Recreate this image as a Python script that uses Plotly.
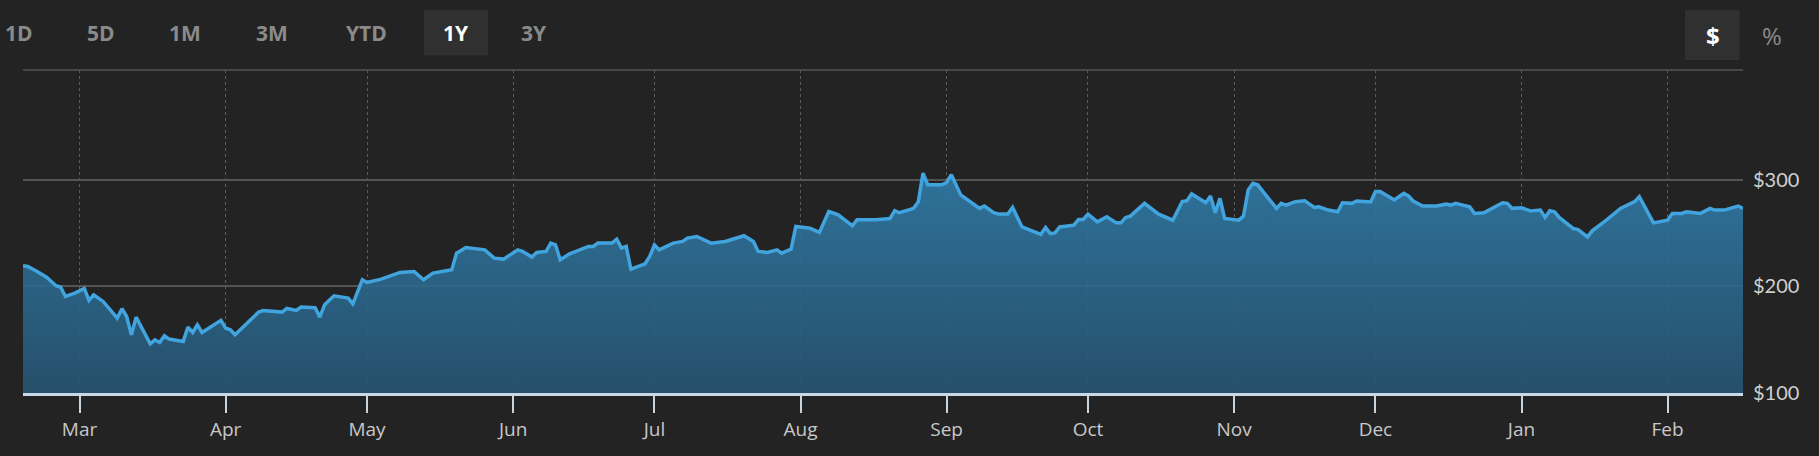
import plotly.graph_objects as go

# ---- data ----
dates = [
    "2021-02-17", "2021-02-18", "2021-02-20", "2021-02-22", "2021-02-24", "2021-02-25", "2021-02-26", "2021-02-28",
    "2021-03-02", "2021-03-03", "2021-03-04", "2021-03-06", "2021-03-09", "2021-03-10", "2021-03-11", "2021-03-12",
    "2021-03-13", "2021-03-14", "2021-03-16", "2021-03-17", "2021-03-18", "2021-03-19", "2021-03-20", "2021-03-23",
    "2021-03-24", "2021-03-25", "2021-03-26", "2021-03-27", "2021-03-31", "2021-04-01", "2021-04-02", "2021-04-03",
    "2021-04-08", "2021-04-09", "2021-04-13", "2021-04-14", "2021-04-16", "2021-04-17", "2021-04-20", "2021-04-21",
    "2021-04-22", "2021-04-24", "2021-04-27", "2021-04-28", "2021-04-30", "2021-05-01", "2021-05-04", "2021-05-08",
    "2021-05-11", "2021-05-13", "2021-05-15", "2021-05-19", "2021-05-20", "2021-05-22", "2021-05-26", "2021-05-28",
    "2021-05-30", "2021-06-02", "2021-06-03", "2021-06-05", "2021-06-06", "2021-06-08", "2021-06-09", "2021-06-10",
    "2021-06-11", "2021-06-13", "2021-06-15", "2021-06-17", "2021-06-18", "2021-06-19", "2021-06-22", "2021-06-23",
    "2021-06-24", "2021-06-25", "2021-06-26", "2021-06-29", "2021-06-30", "2021-07-01", "2021-07-02", "2021-07-05",
    "2021-07-07", "2021-07-08", "2021-07-10", "2021-07-13", "2021-07-16", "2021-07-20", "2021-07-22", "2021-07-23",
    "2021-07-25", "2021-07-27", "2021-07-28", "2021-07-30", "2021-07-31", "2021-08-03", "2021-08-05", "2021-08-07",
    "2021-08-09", "2021-08-10", "2021-08-12", "2021-08-13", "2021-08-17", "2021-08-20", "2021-08-21", "2021-08-22",
    "2021-08-25", "2021-08-26", "2021-08-27", "2021-08-28", "2021-08-31", "2021-09-01", "2021-09-02", "2021-09-04",
    "2021-09-08", "2021-09-09", "2021-09-11", "2021-09-12", "2021-09-14", "2021-09-15", "2021-09-17", "2021-09-21",
    "2021-09-22", "2021-09-23", "2021-09-24", "2021-09-25", "2021-09-28", "2021-09-29", "2021-09-30", "2021-10-01",
    "2021-10-03", "2021-10-05", "2021-10-07", "2021-10-08", "2021-10-09", "2021-10-10", "2021-10-13", "2021-10-16",
    "2021-10-19", "2021-10-21", "2021-10-22", "2021-10-23", "2021-10-26", "2021-10-27", "2021-10-28", "2021-10-29",
    "2021-10-30", "2021-11-02", "2021-11-03", "2021-11-04", "2021-11-05", "2021-11-06", "2021-11-10", "2021-11-11",
    "2021-11-12", "2021-11-14", "2021-11-16", "2021-11-18", "2021-11-19", "2021-11-21", "2021-11-23", "2021-11-24",
    "2021-11-26", "2021-11-27", "2021-11-30", "2021-12-01", "2021-12-02", "2021-12-05", "2021-12-07", "2021-12-08",
    "2021-12-09", "2021-12-11", "2021-12-14", "2021-12-16", "2021-12-17", "2021-12-18", "2021-12-21", "2021-12-22",
    "2021-12-24", "2021-12-26", "2021-12-28", "2021-12-29", "2021-12-30", "2022-01-01", "2022-01-03", "2022-01-05",
    "2022-01-06", "2022-01-07", "2022-01-08", "2022-01-09", "2022-01-12", "2022-01-13", "2022-01-15", "2022-01-16",
    "2022-01-19", "2022-01-22", "2022-01-24", "2022-01-25", "2022-01-26", "2022-01-29", "2022-02-01", "2022-02-02",
    "2022-02-04", "2022-02-05", "2022-02-08", "2022-02-10", "2022-02-11", "2022-02-13", "2022-02-16", "2022-02-17",
]

prices = [
    219.5, 218.7, 214.0, 208.7, 200.6, 199.3, 190.6, 193.7,
    198.1, 186.8, 192.1, 185.9, 170.3, 179.0, 171.8, 154.6,
    171.2, 163.0, 146.2, 149.9, 147.4, 153.7, 150.6, 148.4,
    161.8, 156.8, 164.0, 156.8, 168.1, 160.9, 159.3, 154.6,
    175.9, 177.4, 175.9, 179.3, 177.4, 180.6, 180.0, 171.2,
    182.8, 191.2, 189.0, 183.7, 206.2, 203.7, 206.8, 213.1,
    214.0, 206.2, 212.5, 215.6, 231.2, 236.5, 234.3, 226.5,
    225.6, 234.3, 232.8, 227.5, 231.8, 232.8, 240.6, 239.0,
    225.0, 230.6, 233.7, 237.5, 237.5, 240.6, 240.6, 244.3,
    235.9, 237.5, 216.2, 221.2, 228.1, 239.0, 234.3, 240.6,
    242.2, 245.3, 246.8, 240.6, 242.2, 247.5, 242.2, 232.8,
    231.8, 234.3, 231.2, 235.0, 256.2, 254.7, 250.6, 270.3,
    267.2, 264.0, 256.8, 262.5, 262.5, 263.7, 271.0, 269.1,
    273.2, 279.5, 306.3, 295.3, 295.3, 297.5, 304.7, 285.8,
    273.2, 275.4, 269.1, 267.8, 267.8, 274.1, 255.8, 248.9,
    255.2, 249.5, 250.2, 255.8, 257.4, 262.8, 262.8, 267.8,
    260.6, 265.3, 259.6, 259.6, 264.7, 265.9, 277.9, 267.8,
    262.1, 279.5, 280.4, 286.7, 278.5, 284.8, 269.1, 282.6,
    263.7, 262.1, 265.9, 290.5, 296.8, 295.3, 273.2, 277.9,
    276.3, 279.5, 280.4, 274.1, 274.7, 271.6, 270.0, 278.5,
    277.9, 280.1, 279.2, 289.0, 289.0, 281.1, 287.4, 284.9,
    280.1, 275.4, 275.4, 277.3, 276.3, 277.9, 274.7, 268.5,
    269.1, 273.8, 278.5, 277.9, 273.2, 273.8, 270.7, 271.6,
    264.7, 271.0, 270.0, 264.7, 254.3, 253.3, 246.4, 252.1,
    262.1, 273.2, 277.9, 279.5, 284.2, 259.6, 262.1, 268.5,
    268.5, 270.0, 268.5, 273.2, 271.6, 271.6, 275.4, 273.2,
]

month_ticks = ["2021-03-01", "2021-04-01", "2021-05-01", "2021-06-01", "2021-07-01", "2021-08-01",
               "2021-09-01", "2021-10-01", "2021-11-01", "2021-12-01", "2022-01-01", "2022-02-01"]
month_labels = ["Mar", "Apr", "May", "Jun", "Jul", "Aug", "Sep", "Oct", "Nov", "Dec", "Jan", "Feb"]
price_ticks = [100, 200, 300]
price_labels = ["$100", "$200", "$300"]
range_buttons = ["1D", "5D", "1M", "3M", "YTD", "1Y", "3Y"]
active_button = "1Y"

# ---- layout geometry (pixels) ----
W, H = 1819, 456
ML, MR, MT, MB = 23, 76, 70, 63
PW, PH = W - ML - MR, H - MT - MB

def px_x(px):
    return (px - ML) / PW

def px_y(py):
    return (H - MB - py) / PH

BG = "#232323"

fig = go.Figure()
fig.add_trace(go.Scatter(
    x=dates, y=prices, mode="lines",
    line=dict(color="#41a4de", width=3.5),
    fill="tozeroy",
    fillgradient=dict(
        type="vertical",
        colorscale=[[0, "rgba(38,84,114,0.90)"], [1, "rgba(48,122,166,0.90)"]],
        start=100, stop=300,
    ),
    hoverinfo="skip",
))

# buttons
button_x = [18.8, 101, 185, 272, 366.5, 456, 534]
shapes = [
    dict(type="rect", xref="paper", yref="paper",
         x0=px_x(424), x1=px_x(488), y0=px_y(55.5), y1=px_y(10),
         fillcolor="#303030", line=dict(width=0), layer="below"),
    dict(type="rect", xref="paper", yref="paper",
         x0=px_x(1685), x1=px_x(1739.5), y0=px_y(60), y1=px_y(10),
         fillcolor="#303030", line=dict(width=0), layer="below"),
    dict(type="line", xref="paper", yref="paper", x0=0, x1=1, y0=1, y1=1,
         line=dict(color="#555555", width=1.5)),
]
annotations = []
for lbl, bx in zip(range_buttons, button_x):
    annotations.append(dict(
        text=lbl, xref="paper", yref="paper", x=px_x(bx), y=px_y(33),
        xanchor="center", yanchor="middle", showarrow=False,
        font=dict(family="Open Sans", size=21, color="#ffffff" if lbl == active_button else "#8a8a8a",
                  weight="bold"),
    ))
annotations.append(dict(text="$", xref="paper", yref="paper", x=px_x(1712.5), y=px_y(35),
                        xanchor="center", yanchor="middle", showarrow=False,
                        font=dict(family="Open Sans", size=24, color="#ffffff", weight="bold")))
annotations.append(dict(text="%", xref="paper", yref="paper", x=px_x(1772), y=px_y(35),
                        xanchor="center", yanchor="middle", showarrow=False,
                        font=dict(family="Open Sans", size=24, color="#8a8a8a")))

fig.update_layout(
    width=W, height=H,
    margin=dict(l=ML, r=MR, t=MT, b=MB, pad=0),
    paper_bgcolor=BG, plot_bgcolor=BG,
    showlegend=False,
    shapes=shapes, annotations=annotations,
    xaxis=dict(
        type="date", range=["2021-02-17", "2022-02-17"],
        tickvals=month_ticks, ticktext=month_labels,
        showgrid=True, griddash="dot", gridcolor="#5c5c5c", gridwidth=1,
        ticks="outside", ticklen=17, tickwidth=2, tickcolor="#c9d6e0",
        showline=True, linecolor="#c9d8e4", linewidth=2.5,
        tickfont=dict(family="Open Sans", size=19, color="#c8c8c8"),
        zeroline=False, fixedrange=True,
    ),
    yaxis=dict(
        side="right", range=[100, 403],
        tickvals=price_ticks, ticktext=price_labels,
        showgrid=True, gridcolor="#545454", gridwidth=1.5,
        ticks="", ticklabelstandoff=9,
        tickfont=dict(family="Lato", size=20, color="#d0d0d0"),
        zeroline=False, showline=False, fixedrange=True,
    ),
)

fig.write_html(
    "out.html",
    config={"displayModeBar": False},
    post_script="document.body.style.margin='0';document.body.style.background='#232323';",
)
